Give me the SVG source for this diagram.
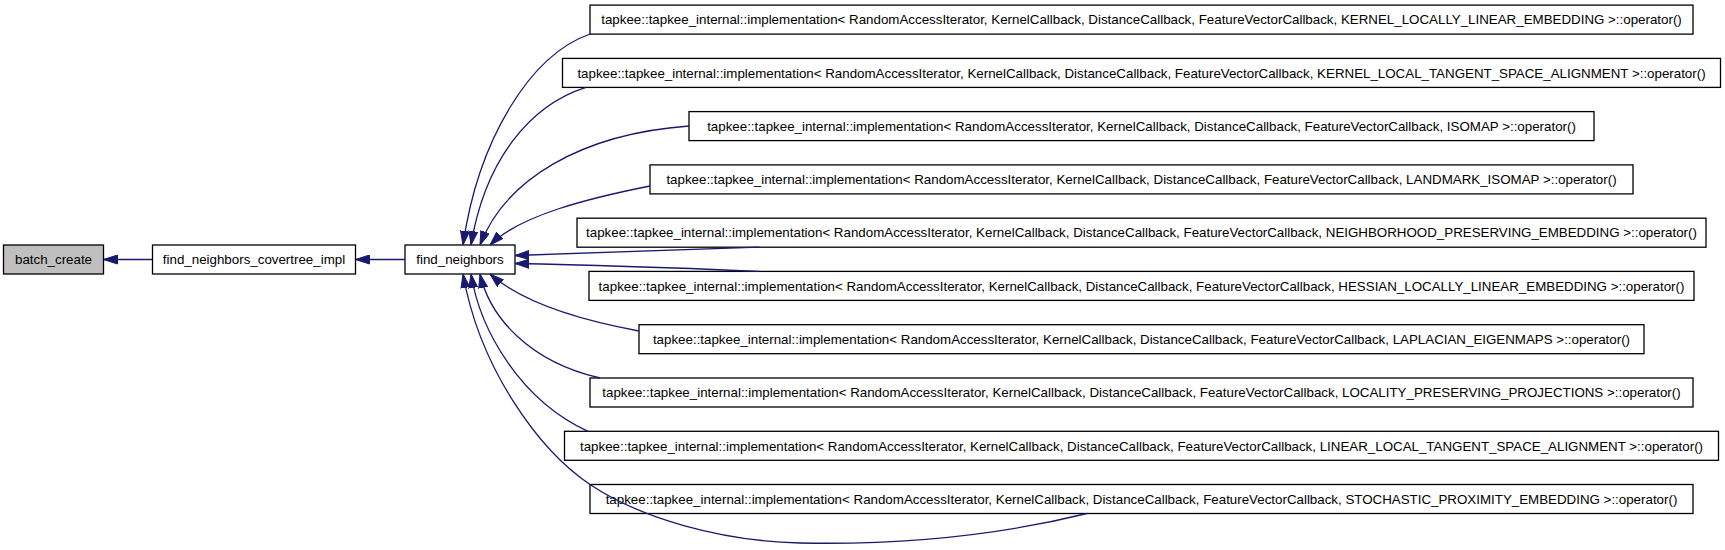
<svg xmlns="http://www.w3.org/2000/svg" width="1725" height="550" viewBox="0 0 1725 550">
<defs>
<style>
.n rect{fill:#fff;stroke:#000;stroke-width:1.3}
.n text{font-family:"Liberation Sans",Arial,sans-serif;font-size:13.33px;fill:#000;text-anchor:middle}
.e path{fill:none;stroke:#191970;stroke-width:1.3;marker-end:url(#ah)}
</style>
<marker id="ah" viewBox="0 0 14 10" refX="14" refY="5" markerWidth="14" markerHeight="10" markerUnits="userSpaceOnUse" orient="auto">
<path d="M0,0.5 L14,5 L0,9.5 z" fill="#191970" stroke="#191970" stroke-width="1"/>
</marker>
</defs>
<rect width="1725" height="550" fill="#fff"/>
<g id="node_batch_create" class="n"><rect x="3.5" y="245" width="100" height="29" style="fill:#bfbfbf"/><text x="53.5" y="264.2">batch_create</text></g>
<g id="node_covertree" class="n"><rect x="152.5" y="245" width="203" height="29"/><text x="254" y="264.2">find_neighbors_covertree_impl</text></g>
<g id="node_find_neighbors" class="n"><rect x="405" y="245" width="110" height="29"/><text x="460" y="264.2">find_neighbors</text></g>
<g id="node_klle" class="n"><rect x="590" y="5.1" width="1103" height="29"/><text x="1141.5" y="24.3">tapkee::tapkee_internal::implementation&lt; RandomAccessIterator, KernelCallback, DistanceCallback, FeatureVectorCallback, KERNEL_LOCALLY_LINEAR_EMBEDDING &gt;::operator()</text></g>
<g id="node_kltsa" class="n"><rect x="562.5" y="58.4" width="1158" height="29"/><text x="1141.5" y="77.6">tapkee::tapkee_internal::implementation&lt; RandomAccessIterator, KernelCallback, DistanceCallback, FeatureVectorCallback, KERNEL_LOCAL_TANGENT_SPACE_ALIGNMENT &gt;::operator()</text></g>
<g id="node_isomap" class="n"><rect x="689" y="111.6" width="905" height="29"/><text x="1141.5" y="130.8">tapkee::tapkee_internal::implementation&lt; RandomAccessIterator, KernelCallback, DistanceCallback, FeatureVectorCallback, ISOMAP &gt;::operator()</text></g>
<g id="node_landmark_isomap" class="n"><rect x="650" y="164.9" width="983" height="29"/><text x="1141.5" y="184.1">tapkee::tapkee_internal::implementation&lt; RandomAccessIterator, KernelCallback, DistanceCallback, FeatureVectorCallback, LANDMARK_ISOMAP &gt;::operator()</text></g>
<g id="node_npe" class="n"><rect x="577" y="218.2" width="1129" height="29"/><text x="1141.5" y="237.4">tapkee::tapkee_internal::implementation&lt; RandomAccessIterator, KernelCallback, DistanceCallback, FeatureVectorCallback, NEIGHBORHOOD_PRESERVING_EMBEDDING &gt;::operator()</text></g>
<g id="node_hlle" class="n"><rect x="589" y="271.4" width="1105" height="29"/><text x="1141.5" y="290.6">tapkee::tapkee_internal::implementation&lt; RandomAccessIterator, KernelCallback, DistanceCallback, FeatureVectorCallback, HESSIAN_LOCALLY_LINEAR_EMBEDDING &gt;::operator()</text></g>
<g id="node_le" class="n"><rect x="639" y="324.7" width="1005" height="29"/><text x="1141.5" y="343.9">tapkee::tapkee_internal::implementation&lt; RandomAccessIterator, KernelCallback, DistanceCallback, FeatureVectorCallback, LAPLACIAN_EIGENMAPS &gt;::operator()</text></g>
<g id="node_lpp" class="n"><rect x="590" y="378" width="1103" height="29"/><text x="1141.5" y="397.2">tapkee::tapkee_internal::implementation&lt; RandomAccessIterator, KernelCallback, DistanceCallback, FeatureVectorCallback, LOCALITY_PRESERVING_PROJECTIONS &gt;::operator()</text></g>
<g id="node_lltsa" class="n"><rect x="564.5" y="431.3" width="1154" height="29"/><text x="1141.5" y="450.5">tapkee::tapkee_internal::implementation&lt; RandomAccessIterator, KernelCallback, DistanceCallback, FeatureVectorCallback, LINEAR_LOCAL_TANGENT_SPACE_ALIGNMENT &gt;::operator()</text></g>
<g id="node_spe" class="n"><rect x="590" y="484.5" width="1103" height="29"/><text x="1141.5" y="503.7">tapkee::tapkee_internal::implementation&lt; RandomAccessIterator, KernelCallback, DistanceCallback, FeatureVectorCallback, STOCHASTIC_PROXIMITY_EMBEDDING &gt;::operator()</text></g>
<g id="connectors" class="e">
<path d="M152.5,259.5 L103.5,259.5"/>
<path d="M405,259.5 L355.5,259.5"/>
<path d="M590,34 C530,55 478,140 463,245"/>
<path d="M586,87.4 C530,105 485,160 471,245"/>
<path d="M689,126 C580,134 505,180 480,245"/>
<path d="M650,186 C590,198 520,215 490,245"/>
<path d="M759,247.2 C680,250 600,253 515,255.5"/>
<path d="M759,271.4 C680,268 600,265 515,263.5"/>
<path d="M639,331 C590,322 525,305 490,274"/>
<path d="M600,378 C530,362 490,318 480,274"/>
<path d="M588,431.3 C520,400 480,330 471,274"/>
<path d="M1087,513.5 C1000,535 900,545 800,543 C720,541 640,518 590,484.5 C540,451 480,370 463,274"/>
</g>
</svg>
